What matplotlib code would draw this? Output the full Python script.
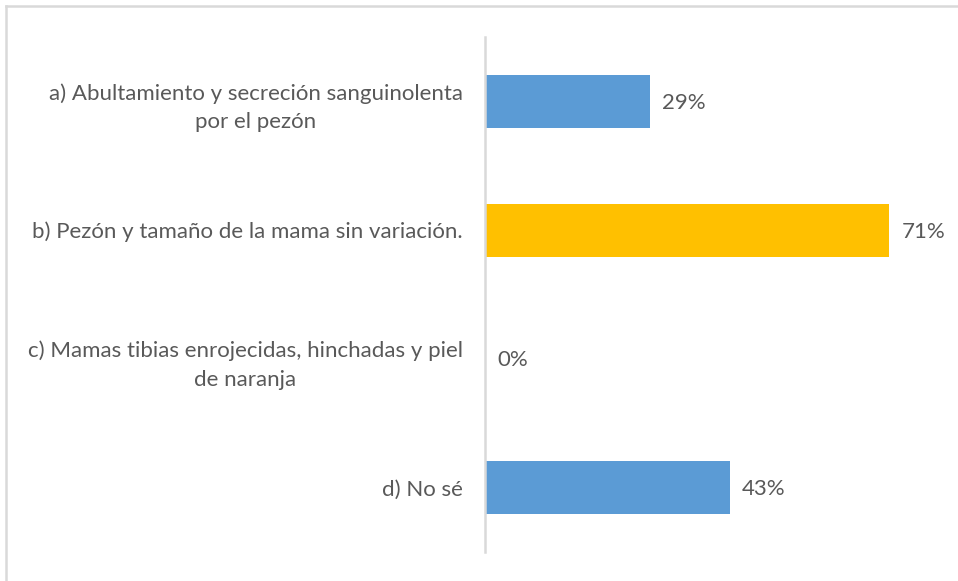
import matplotlib.pyplot as plt
from matplotlib.lines import Line2D

# Datos
categorias = ['a) Abultamiento y secreción sanguinolenta\npor el pezón',
              'b) Pezón y tamaño de la mama sin variación.',
              'c) Mamas tibias enrojecidas, hinchadas y piel\nde naranja',
              'd) No sé']
valores = [29, 71, 0, 43]
colores = ['#5B9BD5', '#FFC000', '#5B9BD5', '#5B9BD5']

plt.rcParams['font.family'] = ['Lato', 'DejaVu Sans']

W, H = 958, 581
fig = plt.figure(figsize=(W / 100, H / 100), dpi=100)
ax = fig.add_axes([485 / W, 1 - 552 / H, (940 - 485) / W, (552 - 37) / H])

y = range(len(categorias))
ax.barh(y, valores, height=0.41, color=colores)
ax.set_xlim(0, 80)
ax.set_ylim(3.5, -0.5)

for yi, v in zip(y, valores):
    ax.annotate(f'{v}%', (v, yi), xytext=(9, -1), textcoords='offset points',
                va='center', ha='left', fontsize=16, color='#595959')

ax.set_yticks(list(y))
ax.set_yticklabels(categorias, fontsize=16, color='#595959',
                   multialignment='center', linespacing=1.55)
ax.tick_params(axis='y', length=0, pad=16)
ax.set_xticks([])

for s in ['top', 'right', 'bottom']:
    ax.spines[s].set_visible(False)
ax.spines['left'].set_color('#D9D9D9')
ax.spines['left'].set_linewidth(1.8)

# marco del gráfico
fig.add_artist(Line2D([6 / W, 6 / W], [0, 1 - 6 / H], transform=fig.transFigure,
                      color='#D9D9D9', lw=1.8))
fig.add_artist(Line2D([6 / W, 1], [1 - 6 / H, 1 - 6 / H], transform=fig.transFigure,
                      color='#D9D9D9', lw=1.8))

fig.savefig('out.png', dpi=100)
